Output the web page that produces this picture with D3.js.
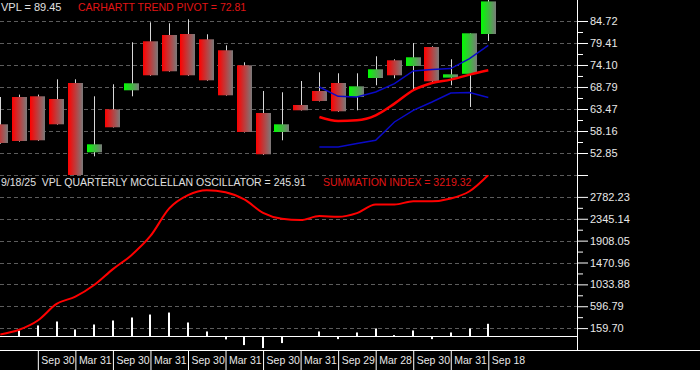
<!DOCTYPE html>
<html>
<head>
<meta charset="utf-8">
<script src="https://cdn.jsdelivr.net/npm/d3@7"></script>
<style>
  html, body { margin: 0; padding: 0; background: #000; }
  svg { display: block; font-family: "Liberation Sans", Arial, sans-serif; }
</style>
</head>
<body>
<div class="canvas"></div>
<script>
// quarterly bars
var quarters = ["2019Q1","2019Q2","2019Q3","2019Q4","2020Q1","2020Q2","2020Q3","2020Q4",
                "2021Q1","2021Q2","2021Q3","2021Q4","2022Q1","2022Q2","2022Q3","2022Q4",
                "2023Q1","2023Q2","2023Q3","2023Q4","2024Q1","2024Q2","2024Q3","2024Q4",
                "2025Q1","2025Q2","2025Q3"]

var open  = [59.78, 66.37, 66.54, 65.89, 69.75, 53.02, 63.40, 67.99, 79.82, 81.34, 81.58, 80.30, 77.65, 74.02,
             62.51, 57.92, 64.44, 67.82, 69.75, 66.37, 70.96, 75.23, 73.86, 78.44, 71.05, 71.97, 81.58]
var high  = [66.37, 66.95, 66.95, 70.64, 70.64, 66.54, 69.44, 79.58, 84.41, 84.17, 85.13, 81.51, 78.85, 74.75,
             67.82, 67.51, 70.23, 72.33, 72.09, 72.09, 76.20, 75.47, 79.41, 78.61, 75.47, 81.75, 89.80]
var low   = [55.10, 55.60, 55.80, 59.70, 47.40, 52.05, 59.00, 66.54, 71.50, 72.50, 71.50, 70.30, 66.70, 57.80,
             52.40, 55.92, 63.10, 65.30, 62.80, 63.16, 69.20, 70.89, 67.99, 69.68, 69.20, 63.96, 79.89]
var close = [55.27, 55.75, 55.92, 59.78, 47.47, 54.95, 59.06, 69.68, 71.61, 72.58, 71.61, 70.40, 66.78, 57.92,
             52.54, 59.78, 63.16, 65.41, 62.92, 68.95, 73.06, 71.61, 75.96, 70.16, 71.85, 81.75, 89.45]

// trend pivot and bands (from 2023Q2 on)
var bandQuarters = ["2023Q2","2023Q3","2023Q4","2024Q1","2024Q2","2024Q3","2024Q4","2025Q1","2025Q2","2025Q3"]
var upperBand  = [68.79, 66.54, 66.37, 67.58, 69.61, 72.65, 72.99, 73.23, 75.64, 78.85]
var trendPivot = [61.54, 60.58, 60.75, 61.95, 64.78, 68.00, 69.75, 70.56, 71.78, 72.81]
var lowerBand  = [54.30, 54.30, 55.12, 55.92, 60.34, 63.16, 65.16, 67.34, 67.43, 66.23]

// mcclellan oscillator + summation index
var oscillator = [0, 113, 213, 292, 133, 232, 312, 372, 431, 471, 272, 93, -66, -179,
                  -238, -139, 0, 93, -60, 73, 153, 20, 113, -60, 73, 153, 245.91]
var summation  = [34, 127, 312, 644, 789, 1021, 1339, 1623, 2001, 2551, 2816, 2915, 2875, 2730,
                  2464, 2345, 2319, 2398, 2384, 2458, 2630, 2630, 2696, 2696, 2750, 2895, 3219.32]

// axis labels
var dateTicks  = ["2019Q3","2020Q1","2020Q3","2021Q1","2021Q3","2022Q1","2022Q3","2023Q1",
                  "2023Q3","2024Q1","2024Q3","2025Q1","2025Q3"]
var dateLabels = ["Sep 30","Mar 31","Sep 30","Mar 31","Sep 30","Mar 31","Sep 30","Mar 31",
                  "Sep 29","Mar 28","Sep 30","Mar 31","Sep 18"]
var priceTicks = [52.85, 58.16, 63.47, 68.79, 74.10, 79.41, 84.72]
var oscTicks   = [159.70, 596.79, 1033.88, 1470.96, 1908.05, 2345.14, 2782.23]

var width = 700, height = 370
var axisX = 577
var svg = d3.select(".canvas").append("svg").attr("width", width).attr("height", height)

svg.append("rect").attr("width", width).attr("height", height).attr("fill", "#000")

// gradients for candle bodies
var defs = svg.append("defs")
function gradient(id, c1, c2) {
    var g = defs.append("linearGradient").attr("id", id)
        .attr("x1", 0).attr("x2", 1).attr("y1", 0).attr("y2", 0)
    g.append("stop").attr("offset", "0%").attr("stop-color", c1)
    g.append("stop").attr("offset", "100%").attr("stop-color", c2)
}
gradient("downBody", "#ff0000", "#7a7a7a")
gradient("upBody", "#00ff00", "#7a7a7a")

defs.append("clipPath").attr("id", "topClip")
    .append("rect").attr("x", 0).attr("y", 0).attr("width", axisX).attr("height", 175)
defs.append("clipPath").attr("id", "botClip")
    .append("rect").attr("x", 0).attr("y", 175).attr("width", axisX).attr("height", 175)

// scales
var x = d3.scalePoint().domain(quarters).range([0.3, 488.3])
var yPrice = d3.scaleLinear().domain([47.54, 90.03]).range([175, -1])
var yOsc = d3.scaleLinear().domain([-277.39, 3219.32]).range([350, 175])

var bodyW = 15

// dashed grid lines
var grid = svg.append("g").attr("stroke", "#5c5c5c").attr("stroke-dasharray", "4,3")
priceTicks.concat([47.54]).forEach(function(v) {
    var yy = Math.round(yPrice(v)) + 0.5
    grid.append("line").attr("x1", 0).attr("x2", axisX).attr("y1", yy).attr("y2", yy)
})
oscTicks.forEach(function(v) {
    var yy = Math.round(yOsc(v)) + 0.5
    grid.append("line").attr("x1", 0).attr("x2", axisX).attr("y1", yy).attr("y2", yy)
})

// ---- top panel: candles ----
var pricePanel = svg.append("g").attr("clip-path", "url(#topClip)")

pricePanel.selectAll(".wick").data(quarters).enter().append("line")
    .attr("class", "wick")
    .attr("x1", function(d) { return Math.round(x(d)) + 0.5 })
    .attr("x2", function(d) { return Math.round(x(d)) + 0.5 })
    .attr("y1", function(d, i) { return yPrice(high[i]) })
    .attr("y2", function(d, i) { return yPrice(low[i]) })
    .attr("stroke", "#d8d8d8")
    .attr("stroke-width", 1)

pricePanel.selectAll(".body").data(quarters).enter().append("rect")
    .attr("class", "body")
    .attr("x", function(d) { return Math.round(x(d) - bodyW / 2) })
    .attr("width", bodyW)
    .attr("y", function(d, i) { return yPrice(Math.max(open[i], close[i])) })
    .attr("height", function(d, i) { return Math.max(1, Math.abs(yPrice(open[i]) - yPrice(close[i]))) })
    .attr("fill", function(d, i) { return close[i] >= open[i] ? "url(#upBody)" : "url(#downBody)" })

// bands and trend pivot
function bandLine(vals, curve) {
    return d3.line()
        .x(function(d, i) { return x(bandQuarters[i]) })
        .y(function(d) { return yPrice(d) })
        .curve(curve)(vals)
}
pricePanel.append("path").attr("d", bandLine(lowerBand, d3.curveLinear))
    .attr("fill", "none").attr("stroke", "#0a0ac8").attr("stroke-width", 1.5)
pricePanel.append("path").attr("d", bandLine(upperBand, d3.curveLinear))
    .attr("fill", "none").attr("stroke", "#0a0ac8").attr("stroke-width", 1.5)
pricePanel.append("path").attr("d", bandLine(trendPivot, d3.curveMonotoneX))
    .attr("fill", "none").attr("stroke", "#ff0000").attr("stroke-width", 2.5)

// ---- bottom panel ----
var oscPanel = svg.append("g").attr("clip-path", "url(#botClip)")

// zero line
oscPanel.append("line")
    .attr("x1", 0).attr("x2", axisX)
    .attr("y1", Math.round(yOsc(0)) + 0.5).attr("y2", Math.round(yOsc(0)) + 0.5)
    .attr("stroke", "#ffffff").attr("stroke-width", 1)

oscPanel.selectAll(".osc").data(quarters).enter().append("rect")
    .attr("class", "osc")
    .attr("x", function(d) { return Math.round(x(d)) - 1 })
    .attr("width", 2)
    .attr("y", function(d, i) { return Math.min(yOsc(0), yOsc(oscillator[i])) })
    .attr("height", function(d, i) { return Math.abs(yOsc(0) - yOsc(oscillator[i])) })
    .attr("fill", "#ffffff")

oscPanel.append("path")
    .attr("d", d3.line()
        .x(function(d, i) { return x(quarters[i]) })
        .y(function(d) { return yOsc(d) })
        .curve(d3.curveMonotoneX)(summation))
    .attr("fill", "none").attr("stroke", "#ff0000").attr("stroke-width", 2)

// ---- axes ----
svg.append("line").attr("x1", axisX + 0.5).attr("x2", axisX + 0.5).attr("y1", 0).attr("y2", 350)
    .attr("stroke", "#ffffff")
svg.append("line").attr("x1", 0).attr("x2", width).attr("y1", 350.5).attr("y2", 350.5)
    .attr("stroke", "#ffffff")

function styleAxis(g) {
    g.select(".domain").remove()
    g.selectAll(".tick line").attr("stroke", "#ffffff")
    g.selectAll(".tick text").attr("fill", "#e8e8e8").style("font-size", "11px")
}

function midpoints(arr) {
    var m = []
    for (let i = 1; i < arr.length; i++) { m.push((arr[i - 1] + arr[i]) / 2) }
    return m
}

// price axis
svg.append("g").attr("transform", "translate(" + axisX + ",0)")
    .call(d3.axisRight(yPrice).tickValues(priceTicks.concat([47.54])).tickSize(11).tickPadding(2)
        .tickFormat(function(d) { return d == 47.54 ? "" : d3.format(".2f")(d) }))
    .call(styleAxis)
svg.append("g").attr("transform", "translate(" + axisX + ",0)")
    .call(d3.axisRight(yPrice).tickValues(midpoints(priceTicks)).tickSize(6).tickFormat(""))
    .call(styleAxis)

// oscillator axis
svg.append("g").attr("transform", "translate(" + axisX + ",0)")
    .call(d3.axisRight(yOsc).tickValues(oscTicks).tickSize(11).tickPadding(2)
        .tickFormat(d3.format(".2f")))
    .call(styleAxis)
svg.append("g").attr("transform", "translate(" + axisX + ",0)")
    .call(d3.axisRight(yOsc).tickValues(midpoints(oscTicks)).tickSize(6).tickFormat(""))
    .call(styleAxis)

// date axis
var xAxis = svg.append("g").attr("transform", "translate(0,350)")
    .call(d3.axisBottom(x).tickValues(dateTicks).tickSize(20)
        .tickFormat(function(d, i) { return dateLabels[i] }))
    .call(styleAxis)
xAxis.selectAll(".tick text")
    .attr("text-anchor", "start").attr("x", 3).attr("y", 14).attr("dy", 0)
    .style("font-size", "10.5px")

// ---- titles ----
svg.append("text").attr("x", 1).attr("y", 11)
    .attr("fill", "#e0e0e0").style("font-size", "11px")
    .text("VPL = 89.45")
svg.append("text").attr("x", 78).attr("y", 11)
    .attr("fill", "#e01515").style("font-size", "10.5px")
    .text("CARHARTT TREND PIVOT = 72.81")
svg.append("text").attr("x", 1).attr("y", 186)
    .attr("fill", "#e0e0e0").style("font-size", "10.5px").style("white-space", "pre")
    .text("9/18/25  VPL QUARTERLY MCCLELLAN OSCILLATOR = 245.91")
svg.append("text").attr("x", 323).attr("y", 186)
    .attr("fill", "#e01515").style("font-size", "10.5px")
    .text("SUMMATION INDEX = 3219.32")
</script>
</body>
</html>
